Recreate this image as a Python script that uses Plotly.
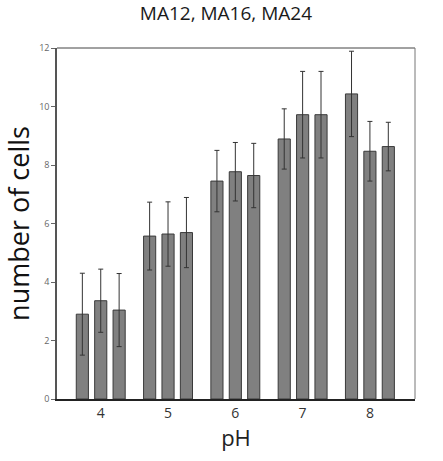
import plotly.graph_objects as go

# pH groups and three strains
ph = [4, 5, 6, 7, 8]
strains = ['MA12', 'MA16', 'MA24']

# mean number of cells
ma12 = [2.90, 5.57, 7.45, 8.89, 10.43]
ma16 = [3.36, 5.64, 7.77, 9.72, 8.47]
ma24 = [3.04, 5.69, 7.64, 9.72, 8.63]

# error bar half-widths
ma12_err = [1.40, 1.16, 1.05, 1.03, 1.46]
ma16_err = [1.08, 1.10, 1.00, 1.48, 1.02]
ma24_err = [1.25, 1.20, 1.10, 1.48, 0.83]

fig = go.Figure()

for name, vals, errs in zip(strains, [ma12, ma16, ma24], [ma12_err, ma16_err, ma24_err]):
    fig.add_trace(go.Bar(
        x=ph, y=vals, name=name,
        marker=dict(color='#808080', line=dict(color='#3a3a3a', width=1)),
        error_y=dict(type='data', array=errs, color='#333333', thickness=1, width=2.5),
        showlegend=False
    ))

fig.update_layout(
    title=dict(text='MA12, MA16, MA24', font=dict(family='Open Sans', size=19, color='#1a1a1a'),
               x=0.51, xanchor='center', y=0.985, yanchor='top'),
    barmode='group',
    bargap=0.18,
    bargroupgap=0.34,
    plot_bgcolor='white',
    paper_bgcolor='white',
    width=443,
    height=461,
    margin=dict(l=57, r=28, t=48, b=62, autoexpand=False),
    font=dict(family='Open Sans'),
    xaxis=dict(
        range=[3.35, 8.67], tickvals=ph, ticks='', showgrid=False, zeroline=False,
        showline=True, linecolor='#222222', linewidth=1.5, mirror=False, automargin=False,
        tickfont=dict(size=14, color='#333333'),
        title=dict(text='pH', font=dict(size=22, color='#222222'), standoff=8)
    ),
    yaxis=dict(
        range=[0, 12], dtick=2, ticks='outside', ticklen=4, tickcolor='#666666',
        showgrid=False, zeroline=False, automargin=False,
        showline=True, linecolor='#555555', linewidth=1.5, mirror=False,
        tickfont=dict(size=9, color='#666666'),
        title=dict(text='number of cells', font=dict(size=27, color='#111111'), standoff=10)
    ),
)

# thin frame on top and right
fig.add_shape(type='line', xref='paper', yref='paper', x0=0, x1=1, y0=1, y1=1,
              line=dict(color='#444444', width=1))
fig.add_shape(type='line', xref='paper', yref='paper', x0=1, x1=1, y0=0, y1=1,
              line=dict(color='#777777', width=1))

# drop the page's default body margin so the figure sits at the window corner
fig.write_html('out.html', config={'displayModeBar': False},
               post_script='document.body.style.margin = "0";')
